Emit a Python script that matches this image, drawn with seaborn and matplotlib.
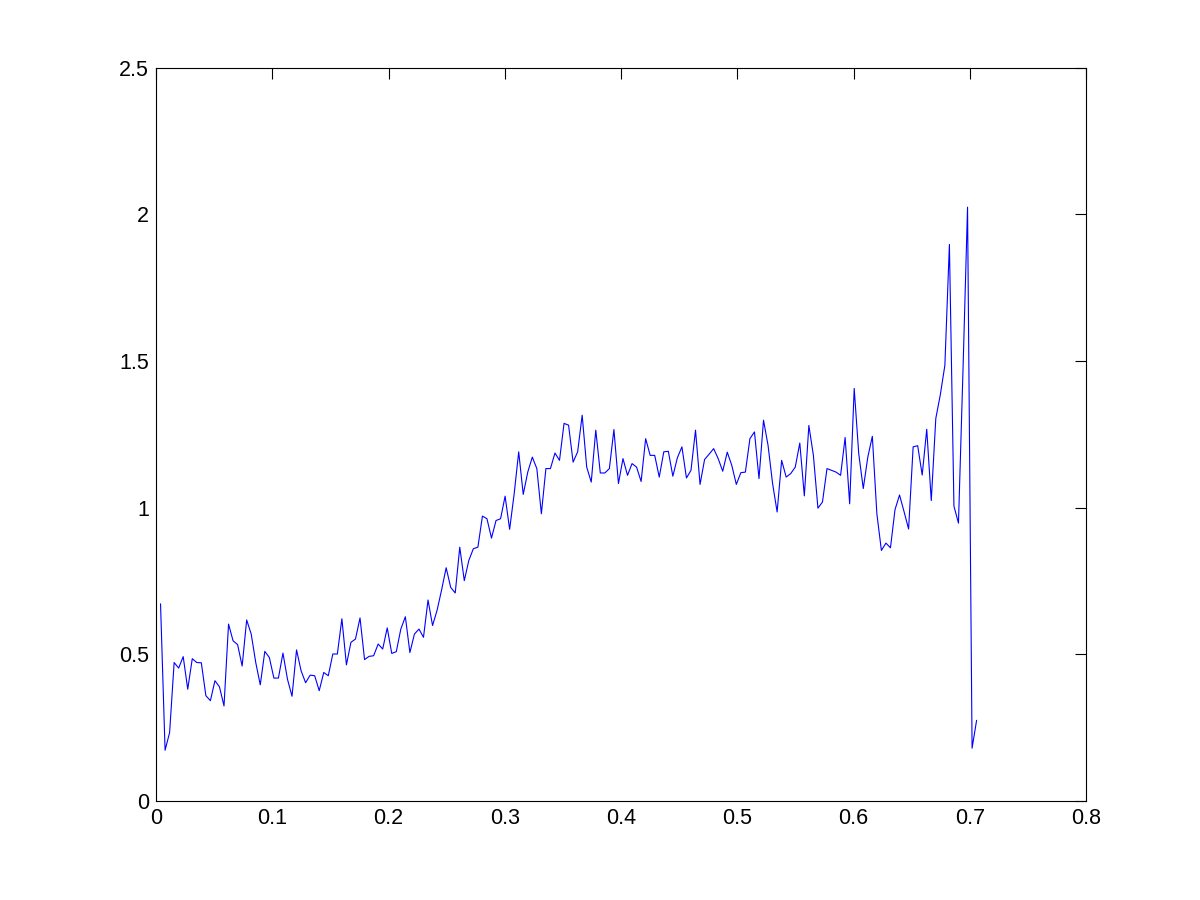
import numpy as np
import matplotlib
matplotlib.use("Agg")
import matplotlib.pyplot as plt
import seaborn as sns

# sampled signal, uniform x step
dx = 0.0039
y = [
    0.672, 0.173, 0.233, 0.472, 0.453, 0.492, 0.381, 0.485, 0.472, 0.471,
    0.359, 0.342, 0.410, 0.389, 0.324, 0.603, 0.546, 0.533, 0.460, 0.617,
    0.569, 0.472, 0.396, 0.510, 0.489, 0.419, 0.419, 0.504, 0.415, 0.357,
    0.515, 0.444, 0.403, 0.429, 0.427, 0.376, 0.438, 0.427, 0.501, 0.501,
    0.621, 0.464, 0.541, 0.552, 0.624, 0.482, 0.493, 0.495, 0.535, 0.518,
    0.590, 0.503, 0.509, 0.586, 0.628, 0.506, 0.569, 0.586,
    0.558, 0.685, 0.598, 0.650, 0.720, 0.795, 0.728, 0.709, 0.865, 0.751,
    0.820, 0.860, 0.865, 0.971, 0.962, 0.896, 0.956, 0.962, 1.039, 0.926,
    1.047, 1.190, 1.045, 1.121, 1.172, 1.133, 0.979, 1.133,
    1.133, 1.186, 1.161, 1.287, 1.281, 1.155, 1.190, 1.315, 1.138, 1.087,
    1.264, 1.118, 1.118, 1.133, 1.266, 1.082, 1.167, 1.110, 1.150, 1.138,
    1.089, 1.235, 1.178, 1.178, 1.104, 1.190, 1.192, 1.107, 1.170, 1.207,
    1.101, 1.127, 1.264, 1.079, 1.164, 1.182, 1.201, 1.167, 1.124, 1.189,
    1.144, 1.079, 1.119, 1.121, 1.235, 1.258, 1.099, 1.298, 1.212, 1.082,
    0.985, 1.161, 1.104, 1.116, 1.138, 1.220, 1.040, 1.280,
    1.178, 0.998, 1.019, 1.133, 1.127, 1.121, 1.110, 1.239, 1.013, 1.406,
    1.184, 1.065, 1.172, 1.243, 0.979, 0.854, 0.879, 0.863,
    0.993, 1.043, 0.986, 0.927, 1.207, 1.211, 1.111, 1.267, 1.024, 1.304,
    1.385, 1.485, 1.897, 1.005, 0.947, 1.470, 2.024, 0.180, 0.275,
]
x = np.arange(1, len(y) + 1) * dx

xticks = [0, 0.1, 0.2, 0.3, 0.4, 0.5, 0.6, 0.7, 0.8]
yticks = [0, 0.5, 1, 1.5, 2, 2.5]

sns.set_style("white")
plt.rcParams['font.family'] = ['Liberation Sans', 'DejaVu Sans']

fig = plt.figure(figsize=(12, 9), dpi=100)
ax = fig.add_axes([0.13, 0.11, 0.775, 0.815])

sns.lineplot(x=x, y=y, color=(0, 0, 1), linewidth=0.8, ax=ax)

ax.set_xlim(0, 0.8)
ax.set_ylim(0, 2.5)
ax.set_xticks(xticks)
ax.set_yticks(yticks)
ax.set_xticklabels(['0', '0.1', '0.2', '0.3', '0.4', '0.5', '0.6', '0.7', '0.8'])
ax.set_yticklabels(['0', '0.5', '1', '1.5', '2', '2.5'])
ax.tick_params(direction='in', top=True, right=True, length=8, width=0.8,
               labelsize=15.5, colors='black', pad=5)
for s in ax.spines.values():
    s.set_color('black')
    s.set_linewidth(0.8)

fig.savefig('out.png', dpi=100, facecolor='white')
